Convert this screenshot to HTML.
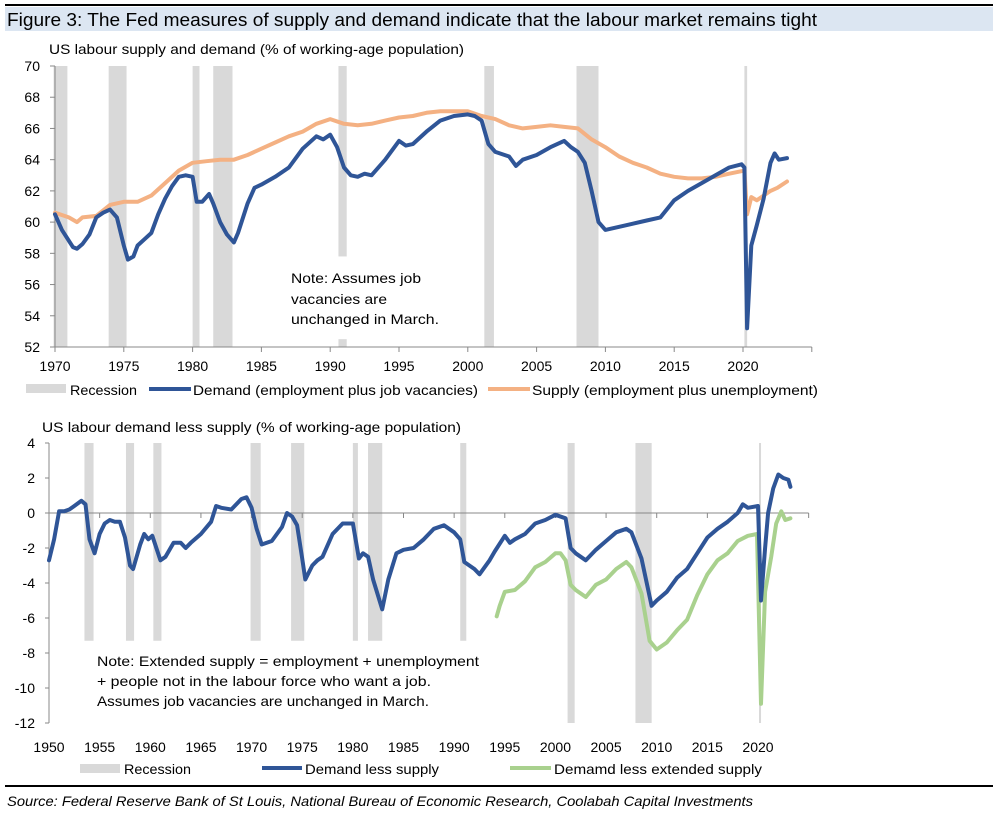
<!DOCTYPE html>
<html><head><meta charset="utf-8">
<style>
body{margin:0;background:#fff;}
svg{display:block;font-family:"Liberation Sans",sans-serif;}
</style></head>
<body>
<svg id="fig" width="999" height="819" viewBox="0 0 999 819" xmlns="http://www.w3.org/2000/svg">
<rect x="5" y="4" width="988" height="2" fill="#000"/>
<rect x="5" y="7" width="988" height="24" fill="#dce6f2"/>
<text x="7" y="26" font-size="18" fill="#000" textLength="810" lengthAdjust="spacingAndGlyphs">Figure 3: The Fed measures of supply and demand indicate that the labour market remains tight</text>
<text x="49" y="54" font-size="14" fill="#000" textLength="415" lengthAdjust="spacingAndGlyphs">US labour supply and demand (% of working-age population)</text>
<g id="top"></g>
<text x="42" y="432" font-size="14" fill="#000" textLength="419" lengthAdjust="spacingAndGlyphs">US labour demand less supply (% of working-age population)</text>
<g id="bot"></g>
<rect x="5" y="785" width="988" height="2" fill="#000"/>
<text x="7" y="806" font-size="14" font-style="italic" fill="#000" textLength="746" lengthAdjust="spacingAndGlyphs">Source: Federal Reserve Bank of St Louis, National Bureau of Economic Research, Coolabah Capital Investments</text>
</svg>
<script>
// ---- data ----
const recStartTop = [1969.9, 1973.9, 1980.0, 1981.5, 1990.6, 2001.2, 2007.9, 2020.1];
const recEndTop   = [1970.9, 1975.2, 1980.5, 1982.9, 1991.2, 2001.9, 2009.5, 2020.3];
const recStartBot = [1953.5, 1957.6, 1960.3, 1969.9, 1973.9, 1980.0, 1981.5, 1990.6, 2001.2, 2007.9, 2020.1];
const recEndBot   = [1954.4, 1958.4, 1961.1, 1970.9, 1975.2, 1980.5, 1982.9, 1991.2, 2001.9, 2009.5, 2020.3];

const demandYears = [1970,1970.5,1971.3,1971.6,1972,1972.5,1973,1973.5,1974,1974.5,1975,1975.3,1975.7,1976,1976.5,1977,1977.5,1978,1978.5,1979,1979.5,1980,1980.3,1980.7,1981.2,1981.5,1982,1982.5,1983,1983.3,1984,1984.5,1985,1986,1987,1988,1989,1989.5,1990,1990.5,1991,1991.5,1992,1992.5,1993,1994,1995,1995.5,1996,1997,1998,1999,2000,2000.5,2001,2001.5,2002,2003,2003.5,2004,2005,2006,2007,2007.5,2008,2008.5,2009,2009.5,2010,2011,2012,2013,2014,2015,2016,2017,2018,2019,2019.9,2020.1,2020.3,2020.6,2021,2021.5,2022,2022.3,2022.6,2023.2];
const demandValues = [60.5,59.5,58.4,58.3,58.6,59.2,60.3,60.6,60.8,60.3,58.5,57.6,57.8,58.5,58.9,59.3,60.5,61.5,62.3,62.9,63.0,62.9,61.3,61.3,61.8,61.2,60.0,59.2,58.7,59.3,61.2,62.2,62.4,62.9,63.5,64.7,65.5,65.3,65.6,64.8,63.5,63.0,62.9,63.1,63.0,64.0,65.2,64.9,65.0,65.8,66.5,66.8,66.9,66.8,66.5,65.0,64.5,64.2,63.6,64.0,64.3,64.8,65.2,64.8,64.5,63.8,62.0,60.0,59.5,59.7,59.9,60.1,60.3,61.4,62.0,62.5,63.0,63.5,63.7,63.5,53.2,58.5,59.8,61.5,63.8,64.4,64.0,64.1];

const supplyYears = [1970,1971,1971.6,1972,1973,1974,1975,1976,1977,1978,1979,1980,1981,1982,1983,1984,1985,1986,1987,1988,1989,1990,1991,1992,1993,1994,1995,1996,1997,1998,1999,2000,2001,2002,2003,2004,2005,2006,2007,2008,2009,2010,2011,2012,2013,2014,2015,2016,2017,2018,2019,2020.1,2020.3,2020.6,2021,2021.5,2022,2022.5,2023.2];
const supplyValues = [60.6,60.3,60.0,60.3,60.4,61.1,61.3,61.3,61.7,62.5,63.3,63.8,63.9,64.0,64.0,64.3,64.7,65.1,65.5,65.8,66.3,66.6,66.3,66.2,66.3,66.5,66.7,66.8,67.0,67.1,67.1,67.1,66.8,66.6,66.2,66.0,66.1,66.2,66.1,66.0,65.3,64.8,64.2,63.8,63.5,63.1,62.9,62.8,62.8,62.9,63.1,63.3,60.5,61.6,61.4,61.7,62.0,62.2,62.6];

const gapYears = [1950,1950.5,1951,1951.5,1952,1952.5,1953.2,1953.6,1954,1954.5,1955,1955.5,1956,1956.5,1957,1957.5,1958,1958.3,1959,1959.4,1959.8,1960.2,1961,1961.5,1962.3,1963,1963.5,1964,1965,1966,1966.5,1967,1968,1969,1969.5,1970,1970.5,1971,1972,1973,1973.5,1974,1974.5,1975,1975.3,1976,1976.5,1977,1978,1979,1980,1980.6,1981,1981.5,1982,1982.9,1983.5,1984.3,1985,1986,1987,1988,1989,1990,1990.6,1991,1992,1992.5,1993.5,1994,1995,1995.5,1996,1997,1998,1999,2000,2001,2001.5,2002,2003,2004,2005,2006,2007,2007.5,2008.5,2009.5,2010,2011,2012,2013,2014,2015,2016,2017,2018,2018.5,2019,2020,2020.3,2020.7,2021,2021.5,2022,2022.5,2023,2023.2];
const gapValues = [-2.7,-1.5,0.1,0.1,0.2,0.4,0.7,0.5,-1.5,-2.3,-1.2,-0.6,-0.4,-0.5,-0.5,-1.4,-3.0,-3.2,-1.8,-1.2,-1.5,-1.3,-2.7,-2.5,-1.7,-1.7,-2.0,-1.7,-1.2,-0.5,0.4,0.3,0.2,0.8,0.9,0.3,-0.9,-1.8,-1.6,-0.8,0.0,-0.2,-0.7,-2.6,-3.8,-3.0,-2.7,-2.5,-1.2,-0.6,-0.6,-2.6,-2.3,-2.5,-3.8,-5.5,-3.8,-2.3,-2.1,-2.0,-1.5,-0.9,-0.7,-1.1,-1.5,-2.8,-3.2,-3.5,-2.7,-2.2,-1.3,-1.7,-1.5,-1.2,-0.6,-0.4,-0.1,-0.3,-2.0,-2.3,-2.7,-2.1,-1.6,-1.1,-0.9,-1.1,-2.6,-5.3,-5.0,-4.5,-3.7,-3.2,-2.3,-1.4,-0.9,-0.5,0.0,0.5,0.3,0.4,-5.0,-2.0,0.0,1.4,2.2,2.0,1.9,1.5];

const extYears = [1994.2,1994.5,1995,1996,1997,1998,1999,2000,2000.5,2001,2001.5,2002,2003,2004,2005,2006,2007,2007.5,2008.5,2009.3,2010,2011,2012,2013,2014,2015,2016,2017,2018,2019,2019.9,2020.3,2020.7,2021.3,2021.8,2022.3,2022.7,2023.2];
const extValues = [-5.9,-5.3,-4.5,-4.4,-3.9,-3.1,-2.8,-2.3,-2.3,-2.7,-4.1,-4.4,-4.8,-4.1,-3.8,-3.2,-2.8,-3.1,-4.6,-7.3,-7.8,-7.4,-6.7,-6.1,-4.7,-3.5,-2.7,-2.3,-1.6,-1.3,-1.2,-10.9,-4.5,-2.5,-0.6,0.1,-0.4,-0.3];

const topYTicks = [52,54,56,58,60,62,64,66,68,70];
const topXTicks = [1970,1975,1980,1985,1990,1995,2000,2005,2010,2015,2020];
const botYTicks = [-12,-10,-8,-6,-4,-2,0,2,4];
const botXTicks = [1950,1955,1960,1965,1970,1975,1980,1985,1990,1995,2000,2005,2010,2015,2020];

// ---- helpers ----
const NS = "http://www.w3.org/2000/svg";
function mk(tag, attrs, parent){ const e=document.createElementNS(NS,tag); for(const k in attrs) e.setAttribute(k,attrs[k]); parent.appendChild(e); return e; }

// ---- top chart ----
const T = document.getElementById('top');
const tx = y => 55 + (y-1970)*(743-55)/50;
const ty = v => 66 + (70-v)*(347-66)/18;
recStartTop.forEach((s,i)=>{
  const top = ty(70);
  let r;
  if (s===1990.6) {
    r = mk('rect',{x:tx(s),y:top,width:tx(recEndTop[i])-tx(s),height:ty(57.8)-top,fill:'#d9d9d9'},T);
    
    
    r = mk('rect',{x:tx(s),y:ty(52.5),width:tx(recEndTop[i])-tx(s),height:ty(52)-ty(52.5),fill:'#d9d9d9'},T);
  } else {
    r = mk('rect',{x:tx(s),y:top,width:Math.max(2,tx(recEndTop[i])-tx(s)),height:ty(52)-top,fill:'#d9d9d9'},T);
  }
  
  
});
let ax = mk('line',{x1:55,y1:ty(70),x2:55,y2:ty(52),stroke:'#888','stroke-width':1},T);


ax = mk('line',{x1:55,y1:ty(52),x2:tx(2025),y2:ty(52),stroke:'#888','stroke-width':1},T);


topYTicks.forEach(v=>{
  mk('line',{x1:50,y1:ty(v),x2:55,y2:ty(v),stroke:'#888'},T);
  const t = mk('text',{x:40,y:ty(v)+5,'font-size':14,'text-anchor':'end'},T);
  t.textContent = v;
  
  
});
topXTicks.concat([2025]).forEach(y=>{
  mk('line',{x1:tx(y),y1:ty(52),x2:tx(y),y2:ty(52)+5,stroke:'#888'},T);
});
topXTicks.forEach(y=>{
  const t = mk('text',{x:tx(y),y:371,'font-size':14,'text-anchor':'middle'},T);
  t.textContent = y;
  
  
});
function line(g, xs, vs, fx, fy, color, name){
  const d = xs.map((x,i)=>(i?'L':'M')+fx(x).toFixed(1)+','+fy(vs[i]).toFixed(1)).join('');
  const p = mk('path',{d:d,fill:'none',stroke:color,'stroke-width':4,'stroke-linejoin':'round','stroke-linecap':'round'},g);
  
  
}
line(T, supplyYears, supplyValues, tx, ty, '#f4b183', 'supply-line');
line(T, demandYears, demandValues, tx, ty, '#2f5597', 'demand-line');
[['Note: Assumes job',283,130],['vacancies are',304,96],['unchanged in March.',324,148]].forEach(a=>{
  const t = mk('text',{x:291,y:a[1],'font-size':14,textLength:a[2],lengthAdjust:'spacingAndGlyphs'},T);
  t.textContent = a[0];
  
  
});
// legend top
let lg = mk('rect',{x:26,y:384,width:40,height:9,fill:'#d9d9d9'},T);


lg = mk('text',{x:70,y:395,'font-size':14,textLength:67,lengthAdjust:'spacingAndGlyphs'},T); lg.textContent='Recession';


lg = mk('line',{x1:149,y1:389,x2:191,y2:389,stroke:'#2f5597','stroke-width':4},T);


lg = mk('text',{x:193,y:395,'font-size':14,textLength:285,lengthAdjust:'spacingAndGlyphs'},T); lg.textContent='Demand (employment plus job vacancies)';


lg = mk('line',{x1:488,y1:389,x2:530,y2:389,stroke:'#f4b183','stroke-width':4},T);


lg = mk('text',{x:532,y:395,'font-size':14,textLength:286,lengthAdjust:'spacingAndGlyphs'},T); lg.textContent='Supply (employment plus unemployment)';



// ---- bottom chart ----
const B = document.getElementById('bot');
const bx = y => 49 + (y-1950)*(758-49)/70;
const by = v => 443 + (4-v)*(723-443)/16;
recStartBot.forEach((s,i)=>{
  const low = s>2000 ? -12 : -7.3;
  const r = mk('rect',{x:bx(s),y:by(4),width:Math.max(2,bx(recEndBot[i])-bx(s)),height:by(low)-by(4),fill:'#d9d9d9'},B);
  
  
});
ax = mk('line',{x1:49,y1:by(4),x2:49,y2:by(-12),stroke:'#888'},B);


ax = mk('line',{x1:49,y1:by(0),x2:bx(2025),y2:by(0),stroke:'#888'},B);


botYTicks.forEach(v=>{
  mk('line',{x1:45,y1:by(v),x2:49,y2:by(v),stroke:'#888'},B);
  const t = mk('text',{x:35,y:by(v)+5,'font-size':14,'text-anchor':'end'},B);
  t.textContent = v;
  
  
});
botXTicks.concat([2025]).forEach(y=>{
  mk('line',{x1:bx(y),y1:by(0),x2:bx(y),y2:by(0)+5,stroke:'#888'},B);
});
botXTicks.forEach(y=>{
  const t = mk('text',{x:bx(y),y:752,'font-size':14,'text-anchor':'middle'},B);
  t.textContent = y;
  
  
});
line(B, extYears, extValues, bx, by, '#a9d18e', 'demand-less-extended-supply-line');
line(B, gapYears, gapValues, bx, by, '#2f5597', 'demand-less-supply-line');
[['Note: Extended supply = employment + unemployment',666,382],['+ people not in the labour force who want a job.',686,334],['Assumes job vacancies are unchanged in March.',706,332]].forEach(a=>{
  const t = mk('text',{x:97,y:a[1],'font-size':14,textLength:a[2],lengthAdjust:'spacingAndGlyphs'},B);
  t.textContent = a[0];
  
  
});
lg = mk('rect',{x:80,y:764,width:40,height:9,fill:'#d9d9d9'},B);


lg = mk('text',{x:124,y:774,'font-size':14,textLength:67,lengthAdjust:'spacingAndGlyphs'},B); lg.textContent='Recession';


lg = mk('line',{x1:262,y1:768,x2:302,y2:768,stroke:'#2f5597','stroke-width':4},B);


lg = mk('text',{x:305,y:774,'font-size':14,textLength:134,lengthAdjust:'spacingAndGlyphs'},B); lg.textContent='Demand less supply';


lg = mk('line',{x1:510,y1:768,x2:551,y2:768,stroke:'#a9d18e','stroke-width':4},B);


lg = mk('text',{x:554,y:774,'font-size':14,textLength:208,lengthAdjust:'spacingAndGlyphs'},B); lg.textContent='Demamd less extended supply';


</script>
</body></html>
